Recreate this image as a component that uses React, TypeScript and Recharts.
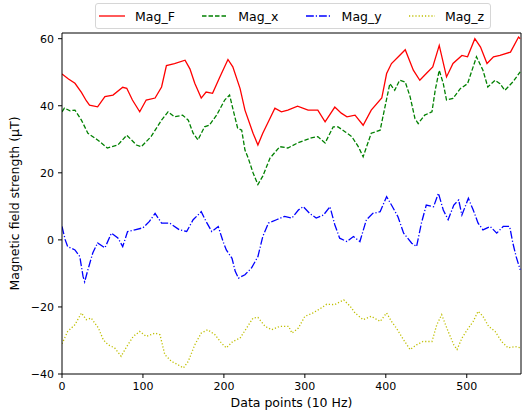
import React from "react";
import { LineChart, Line, XAxis, YAxis, Legend, ReferenceLine } from "recharts";

const font = "'DejaVu Sans', sans-serif";

const xTicks = [0, 100, 200, 300, 400, 500];
const yTicks = [-40, -20, 0, 20, 40, 60];
const xMax = 567;
const yMin = -40;
const yMax = 61.7;

// sample index (10 Hz) and value in µT
const magFIdx = [0, 8, 16, 24, 30, 34, 44, 53, 63, 75, 80, 87, 96, 104, 115, 123, 129, 139, 152, 158, 164, 172, 178, 186, 195, 205, 211, 220, 226, 236, 242, 248, 257, 263, 271, 279, 291, 304, 316, 325, 337, 345, 352, 362, 372, 382, 395, 401, 407, 417, 424, 434, 442, 450, 458, 466, 475, 483, 494, 501, 510, 517, 525, 533, 541, 554, 564, 566];
const magFVal = [49.5, 48, 46.7, 44, 41.5, 40.2, 39.7, 42.7, 43.2, 45.5, 45.2, 41.7, 38.2, 41.7, 42.3, 45.6, 52, 52.6, 53.6, 51, 46.7, 42.3, 44.1, 43.7, 48.6, 53.8, 51.6, 45.1, 38.7, 31.8, 28.3, 31.8, 36.3, 39.3, 38.2, 38.7, 39.9, 38.7, 38.7, 35.2, 39.6, 37.8, 36.7, 37.2, 34.2, 38.7, 42.3, 49.6, 52.6, 55, 56.7, 50.6, 47.6, 49.6, 51.6, 58, 48.6, 52.6, 55, 54.6, 60, 57.5, 52.6, 54.6, 55, 56, 60.5, 60];

const magXIdx = [0, 3, 10, 16, 24, 32, 44, 56, 69, 80, 92, 98, 110, 123, 131, 139, 149, 156, 162, 168, 176, 182, 191, 201, 207, 213, 217, 222, 226, 230, 236, 242, 248, 257, 269, 279, 291, 308, 316, 325, 335, 341, 350, 358, 366, 372, 382, 393, 399, 405, 411, 417, 424, 430, 436, 440, 448, 457, 461, 466, 471, 475, 483, 492, 501, 512, 520, 526, 535, 541, 547, 557, 566];
const magXVal = [38.2, 39.3, 38.5, 38.7, 35.7, 31.8, 29.8, 27.4, 28.3, 31.2, 28.3, 27.8, 30.8, 35.7, 38.2, 36.7, 37.2, 35.7, 31.8, 29.8, 33.7, 34.2, 37.2, 41.7, 43.2, 37.2, 33.3, 32.7, 26.8, 24.4, 20, 16.5, 19, 24.4, 27.8, 27.4, 28.9, 30.4, 30.8, 28.9, 33.7, 33.7, 32.2, 30.8, 27.8, 24.8, 31.8, 32.7, 39.7, 46.6, 44.6, 47.6, 47.1, 42.7, 36.2, 34.7, 37.2, 38.2, 44.6, 50.6, 46.6, 41.7, 42.2, 45.1, 46.6, 54.6, 50.6, 45.6, 47.6, 46.6, 44.6, 47.1, 50.1];

const magYIdx = [0, 4, 7, 16, 22, 26, 28, 32, 38, 44, 53, 61, 69, 75, 81, 90, 100, 108, 115, 123, 133, 145, 154, 162, 172, 178, 185, 193, 199, 203, 210, 214, 218, 226, 234, 242, 248, 255, 265, 275, 284, 292, 298, 306, 314, 323, 331, 337, 343, 352, 360, 368, 376, 384, 393, 401, 407, 415, 422, 432, 438, 444, 450, 459, 465, 471, 477, 484, 490, 494, 502, 508, 514, 520, 529, 537, 545, 553, 557, 561, 566];
const magYVal = [4, 0, -2, -3, -5, -10.9, -12.5, -8.9, -3.9, -0.9, -2.4, 2, 0.6, -2, 2.5, 3, 3.6, 5.5, 7.9, 5, 5, 3, 2.5, 6, 8.4, 5.5, 2.5, 4, -0.5, -3, -5.5, -9.4, -11.4, -10.4, -8.4, -5, 1, 5, 6, 7, 6.5, 8.9, 9.9, 7.9, 6.5, 7.4, 9.9, 4.5, 0.5, -0.5, 1, -0.5, 6, 7.9, 8.4, 12.9, 10.4, 6.9, 2, -1, -2, 5, 10.4, 9.9, 13.9, 8.9, 6, 10.4, 11.9, 7.4, 12.4, 8.9, 5, 3, 4, 2, 4, 4, -1, -5, -8.9];

const magZIdx = [0, 7, 16, 24, 30, 36, 45, 51, 57, 65, 73, 80, 88, 96, 104, 115, 121, 127, 135, 143, 150, 156, 164, 172, 180, 189, 197, 203, 211, 220, 228, 236, 242, 251, 259, 269, 280, 284, 292, 300, 310, 319, 327, 337, 348, 356, 362, 372, 382, 393, 401, 407, 413, 422, 430, 438, 446, 457, 463, 469, 477, 484, 488, 494, 502, 508, 514, 520, 527, 535, 543, 551, 560, 566];
const magZVal = [-31, -27.3, -25.3, -21.8, -23.8, -23.3, -26.3, -29.8, -31.3, -32.2, -34.7, -31.8, -28.8, -27.3, -28.8, -27.8, -28.3, -34.2, -36.2, -37.2, -38.2, -36.2, -31.3, -27.8, -26.8, -28.3, -30.8, -32.2, -30.3, -29.3, -26.3, -23.3, -23.1, -25.8, -26.8, -25.8, -25.8, -27.8, -26.3, -22.8, -21.8, -20.5, -19.2, -19.3, -17.9, -19.8, -21.8, -23.8, -22.8, -24.3, -21.8, -24.3, -26.3, -29.8, -32.7, -31.3, -30.3, -30.3, -25.3, -22.3, -27.3, -31.3, -32.7, -29.3, -26.3, -24.3, -21.3, -22.8, -25.8, -27.3, -30.3, -32.2, -31.8, -32.2];

const toPoints = (idx: number[], vals: number[]) => idx.map((t, k) => ({ t, v: vals[k] }));

const series = [
  { name: "Mag_F", color: "#ff0000", dash: undefined as string | undefined, data: toPoints(magFIdx, magFVal) },
  { name: "Mag_x", color: "#008000", dash: "4.5 2", data: toPoints(magXIdx, magXVal) },
  { name: "Mag_y", color: "#0000ff", dash: "7.8 2 1.2 2", data: toPoints(magYIdx, magYVal) },
  { name: "Mag_z", color: "#bfbf00", dash: "1.2 2", data: toPoints(magZIdx, magZVal) },
];

const minus = (v: number) => String(v).replace("-", "\u2212");

const LegendBox = () => (
  <div
    style={{
      position: "relative",
      width: 396,
      height: 26,
      boxSizing: "border-box",
      border: "1px solid #d6d6d6",
      borderRadius: 3,
      background: "rgba(255,255,255,0.8)",
      fontFamily: font,
      fontSize: 12.5,
      color: "#000",
    }}
  >
    {series.map((s, i) => (
      <div
        key={s.name}
        style={{ position: "absolute", left: 3 + i * 103.3, top: 0, height: 24, display: "flex", alignItems: "center" }}
      >
        <svg width={26} height={4}>
          <line x1={0} y1={2} x2={26} y2={2} stroke={s.color} strokeWidth={1.3} strokeDasharray={s.dash} />
        </svg>
        <span style={{ marginLeft: 10 }}>{s.name}</span>
      </div>
    ))}
  </div>
);

const YLabel = (props: any) => {
  const vb = props.viewBox;
  const cy = vb.y + vb.height / 2;
  return (
    <text x={14} y={cy} transform={`rotate(-90, 14, ${cy})`} textAnchor="middle" dominantBaseline="central" fontFamily={font} fontSize={12.5} fill="#000">
      Magnetic field strength (μT)
    </text>
  );
};

const XLabel = (props: any) => {
  const vb = props.viewBox;
  return (
    <text x={vb.x + vb.width / 2} y={407} textAnchor="middle" fontFamily={font} fontSize={12.5} fill="#000">
      Data points (10 Hz)
    </text>
  );
};

export default function App() {
  const tickStyle = { fontFamily: font, fontSize: 11, fill: "#000" };
  return (
    <div style={{ position: "absolute", left: 0, top: 0 }}>
      <LineChart width={522} height={418} margin={{ top: 33, right: 1, bottom: 0, left: 0 }}>
        <XAxis
          dataKey="t"
          type="number"
          domain={[0, xMax]}
          ticks={xTicks}
          allowDataOverflow
          height={44}
          tickSize={4}
          tickMargin={4}
          tick={tickStyle}
          stroke="#000"
          tickLine={{ stroke: "#000" }}
          label={<XLabel />}
        />
        <YAxis
          type="number"
          domain={[yMin, yMax]}
          ticks={yTicks}
          allowDataOverflow
          width={62}
          tickSize={4}
          tickMargin={4}
          tick={tickStyle}
          tickFormatter={minus}
          stroke="#000"
          tickLine={{ stroke: "#000" }}
          label={<YLabel />}
        />
        <ReferenceLine y={yMax} stroke="#000" strokeWidth={1} ifOverflow="visible" />
        <ReferenceLine x={xMax} stroke="#000" strokeWidth={1} ifOverflow="visible" />
        {series.map((s) => (
          <Line
            key={s.name}
            data={s.data}
            dataKey="v"
            name={s.name}
            type="linear"
            stroke={s.color}
            strokeWidth={1.3}
            strokeDasharray={s.dash}
            dot={false}
            activeDot={false}
            isAnimationActive={false}
          />
        ))}
        <Legend
          layout="horizontal"
          verticalAlign="middle"
          wrapperStyle={{ top: 3, left: 95, width: 396, height: 26 }}
          content={() => <LegendBox />}
        />
      </LineChart>
    </div>
  );
}
